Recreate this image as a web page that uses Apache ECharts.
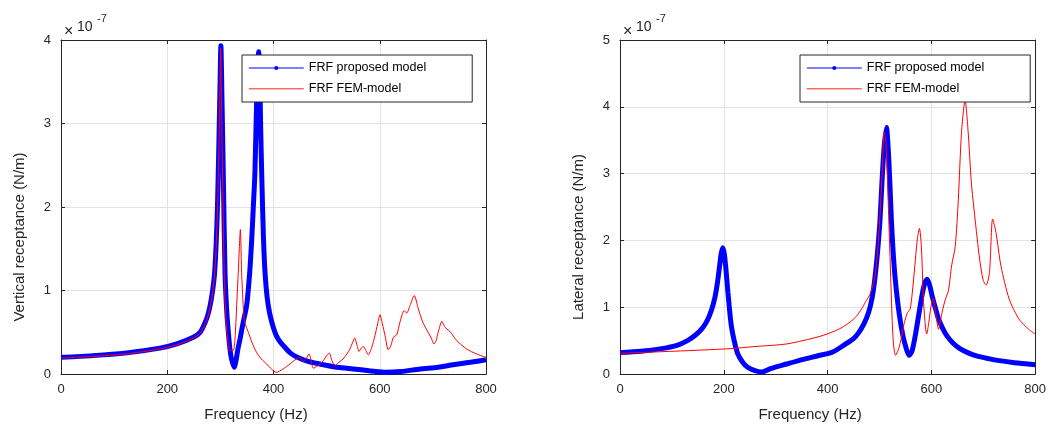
<!DOCTYPE html>
<html>
<head>
<meta charset="utf-8">
<script src="https://cdn.jsdelivr.net/npm/echarts@6/dist/echarts.min.js"></script>
<style>
  html, body { margin: 0; padding: 0; background: #fff; }
  #chart { width: 1049px; height: 427px; }
</style>
</head>
<body>
<div id="chart"></div>
<script>
// 垂直方向 FRF（单位 1e-7 N/m）
const vertProposedHz = [0, 60, 120, 186, 218, 249, 262, 274, 280, 285, 289, 292, 294.5, 297, 299, 301, 303, 305.5, 308.7, 312, 315, 318, 321, 326, 330, 333, 337, 343, 349.5, 355, 359, 362, 365, 368, 370, 372, 374, 376, 378, 381, 384, 388, 393, 400, 406, 413, 420, 432, 445, 465, 487, 520, 550, 580, 613, 640, 676, 710, 738, 770, 800];
const vertProposed   = [0.20, 0.22, 0.25, 0.31, 0.36, 0.44, 0.50, 0.66, 0.80, 0.98, 1.20, 1.55, 2.00, 2.70, 3.35, 3.93, 3.30, 2.40, 1.22, 0.75, 0.50, 0.30, 0.18, 0.08, 0.18, 0.30, 0.42, 0.62, 0.82, 1.20, 1.61, 2.00, 2.41, 3.20, 3.60, 3.86, 3.55, 2.90, 2.35, 1.65, 1.22, 0.92, 0.72, 0.55, 0.45, 0.38, 0.33, 0.25, 0.20, 0.15, 0.12, 0.08, 0.06, 0.04, 0.02, 0.03, 0.06, 0.08, 0.11, 0.14, 0.17];

const vertFemHz = [0, 60, 120, 186, 218, 249, 262, 274, 280, 285, 289, 292, 294.5, 297, 299, 300.5, 302, 304, 306, 308, 311, 314, 318, 324, 327.5, 330.7, 333.7, 335.6, 337.6, 340, 343, 346, 352.6, 360, 368, 377, 387, 396, 405, 418, 431, 443, 450, 456, 461, 467, 471, 475, 481, 487.5, 495, 500, 505, 510, 516, 523, 531, 538, 544, 549, 553, 557, 561, 565, 569, 574, 578.5, 585, 591, 596, 600.5, 605, 610, 616, 621, 625.6, 632, 638, 646, 650.6, 657, 665, 672.6, 681, 691, 697, 702, 706, 710, 717, 722, 726, 732, 745, 763.5, 782, 800];
const vertFem   = [0.19, 0.21, 0.24, 0.30, 0.35, 0.43, 0.49, 0.64, 0.78, 0.95, 1.18, 1.50, 1.95, 2.65, 3.30, 3.90, 3.30, 2.40, 1.60, 1.00, 0.60, 0.40, 0.28, 0.28, 0.42, 0.82, 1.22, 1.50, 1.73, 1.22, 0.82, 0.62, 0.50, 0.37, 0.26, 0.18, 0.12, 0.06, 0.02, 0.06, 0.12, 0.18, 0.20, 0.15, 0.18, 0.24, 0.15, 0.07, 0.09, 0.12, 0.17, 0.22, 0.25, 0.16, 0.10, 0.14, 0.18, 0.24, 0.30, 0.38, 0.43, 0.35, 0.27, 0.31, 0.33, 0.28, 0.23, 0.32, 0.46, 0.60, 0.71, 0.60, 0.46, 0.29, 0.34, 0.44, 0.47, 0.62, 0.76, 0.73, 0.82, 0.94, 0.78, 0.62, 0.50, 0.43, 0.36, 0.40, 0.50, 0.63, 0.57, 0.54, 0.51, 0.40, 0.30, 0.24, 0.20];

// 横向 FRF（单位 1e-7 N/m）
const latProposedHz = [0, 40, 80, 110, 130, 145, 158, 168, 176, 183, 188, 192, 195, 198, 201, 204, 208, 214, 220, 227, 236, 246, 260, 273, 290, 321, 353, 380, 410, 435, 450, 460, 470, 479, 486, 491, 496, 501, 505, 509, 513.5, 517, 520, 523, 526, 530, 535.5, 541, 548, 557.5, 563, 570, 577, 583, 588, 592, 597, 602, 608, 614, 622, 630, 642, 655, 670, 687, 710, 731, 760, 800];
const latProposed   = [0.32, 0.34, 0.38, 0.43, 0.50, 0.58, 0.68, 0.80, 0.95, 1.15, 1.38, 1.62, 1.80, 1.89, 1.80, 1.58, 1.22, 0.75, 0.50, 0.30, 0.18, 0.10, 0.05, 0.03, 0.08, 0.15, 0.22, 0.27, 0.33, 0.45, 0.53, 0.62, 0.75, 0.92, 1.15, 1.42, 1.80, 2.30, 2.90, 3.40, 3.69, 3.35, 2.86, 2.30, 1.87, 1.45, 1.05, 0.75, 0.48, 0.28, 0.35, 0.62, 0.95, 1.22, 1.38, 1.42, 1.32, 1.15, 0.98, 0.82, 0.68, 0.57, 0.46, 0.38, 0.32, 0.27, 0.23, 0.20, 0.17, 0.14];

const latFemHz = [0, 132, 214, 258, 321, 384, 416, 435, 454, 466, 472.5, 482, 491, 497, 501, 505, 509, 512, 515, 518, 521, 524, 527, 531, 538.6, 548, 554, 559, 563, 567, 573, 577, 581, 584.6, 589, 591, 595, 599, 603.5, 608, 614, 620.5, 627, 633, 639, 646, 652, 658, 665, 671, 677, 683.5, 693, 700, 705.6, 712, 718, 724.5, 734, 750, 769, 787.5, 800];
const latFem   = [0.31, 0.35, 0.38, 0.41, 0.45, 0.56, 0.65, 0.73, 0.85, 0.98, 1.07, 1.20, 1.45, 1.90, 2.40, 3.00, 3.62, 3.50, 3.00, 2.30, 1.60, 0.90, 0.45, 0.28, 0.42, 0.77, 0.92, 0.97, 1.20, 1.52, 2.02, 2.18, 1.87, 1.12, 0.67, 0.60, 0.77, 1.00, 1.13, 0.92, 0.67, 0.92, 1.12, 1.25, 1.62, 1.91, 2.62, 3.61, 4.10, 3.61, 2.87, 2.37, 1.72, 1.40, 1.33, 1.52, 2.32, 2.12, 1.62, 1.12, 0.82, 0.67, 0.60];

const NAME_PROPOSED = 'FRF proposed model';
const NAME_FEM = 'FRF FEM-model';

const FONT = "'Liberation Sans', Arial, Helvetica, sans-serif";
const INK = '#262626';

function zip(xs, ys) {
    return xs.map((x, i) => [x, ys[i]]);
}

// 主坐标轴（带刻度、网格）
function mainX(gridIndex) {
    return {
        type: 'value', gridIndex, position: 'bottom',
        min: 0, max: 800, interval: 200,
        name: 'Frequency (Hz)', nameLocation: 'middle', nameGap: 33,
        nameTextStyle: { fontSize: 15, color: INK, fontFamily: FONT, padding: [0, 35, 0, 0] },
        axisLine: { onZero: false, lineStyle: { color: INK, width: 1 } },
        axisTick: { inside: true, length: 4, lineStyle: { color: INK } },
        axisLabel: { color: INK, fontSize: 13, fontFamily: FONT, margin: 9 },
        splitLine: { show: true, lineStyle: { color: '#e3e3e3', width: 1 } }
    };
}

function mainY(gridIndex, max, name) {
    return {
        type: 'value', gridIndex, position: 'left',
        min: 0, max: max, interval: 1,
        name: name, nameLocation: 'middle', nameGap: 34,
        nameTextStyle: { fontSize: 15, color: INK, fontFamily: FONT, padding: [0, 60, 0, 0] },
        axisLine: { onZero: false, lineStyle: { color: INK, width: 1 } },
        axisTick: { inside: true, length: 4, lineStyle: { color: INK } },
        axisLabel: { color: INK, fontSize: 13, fontFamily: FONT, margin: 10 },
        splitLine: { show: true, lineStyle: { color: '#e3e3e3', width: 1 } }
    };
}

// 上边和右边的框线（MATLAB box on）
function boxAxis(gridIndex, position, max, interval) {
    return {
        type: 'value', gridIndex, position,
        min: 0, max: max, interval: interval,
        axisLine: { show: true, onZero: false, lineStyle: { color: INK, width: 1 } },
        axisTick: { show: true, inside: true, length: 4, lineStyle: { color: INK } },
        axisLabel: { show: false },
        splitLine: { show: false }
    };
}

function legendAt(left) {
    return {
        orient: 'vertical',
        left: left, top: 55,
        itemWidth: 55, itemHeight: 5, itemGap: 7.7,
        padding: [6.5, 46, 6.8, 6],
        backgroundColor: '#fff',
        borderColor: INK, borderWidth: 1, borderRadius: 0,
        textStyle: { fontSize: 12.5, color: '#000', fontFamily: FONT },
        selectedMode: false,
        data: [
            { name: NAME_PROPOSED, lineStyle: { width: 1, color: '#0000ff' }, itemStyle: { color: '#0000ff' } },
            { name: NAME_FEM, lineStyle: { width: 1.6, color: '#ff6a6a' }, itemStyle: { opacity: 0 } }
        ]
    };
}

function proposedSeries(xi, yi, data) {
    return {
        name: NAME_PROPOSED, type: 'line', xAxisIndex: xi, yAxisIndex: yi,
        data: data, symbol: 'circle', showSymbol: false, smooth: 0.25,
        lineStyle: { width: 5, color: '#0000ff' }, itemStyle: { color: '#0000ff' },
        z: 2
    };
}

function femSeries(xi, yi, data) {
    return {
        name: NAME_FEM, type: 'line', xAxisIndex: xi, yAxisIndex: yi,
        data: data, symbol: 'none', smooth: 0.25,
        lineStyle: { width: 1, color: '#ff0000' }, itemStyle: { color: '#ff0000' },
        z: 3
    };
}

// ×10^-7 标注
function exponentText(x0) {
    const style = (text, size) => ({ text, fill: INK, font: size + 'px ' + FONT, textVerticalAlign: 'middle' });
    return [
        { type: 'text', left: x0 + 3, top: 24, style: style('\u00d7', 16) },
        { type: 'text', left: x0 + 16, top: 20, style: style('10', 14) },
        { type: 'text', left: x0 + 36, top: 13, style: style('-7', 11) }
    ];
}

const chart = echarts.init(document.getElementById('chart'), null, { renderer: 'canvas' });

const option = {
    animation: false,
    backgroundColor: '#fff',
    grid: [
        { left: 61, top: 40, width: 425, height: 335 },
        { left: 620, top: 40, width: 423, height: 335 }
    ],
    xAxis: [
        mainX(0),
        boxAxis(0, 'top', 800, 200),
        mainX(1),
        boxAxis(1, 'top', 800, 200)
    ],
    yAxis: [
        mainY(0, 4, 'Vertical receptance (N/m)'),
        boxAxis(0, 'right', 4, 1),
        mainY(1, 5, 'Lateral receptance (N/m)'),
        boxAxis(1, 'right', 5, 1)
    ],
    legend: [legendAt(242), legendAt(800)],
    graphic: exponentText(61).concat(exponentText(620)),
    series: [
        proposedSeries(0, 0, zip(vertProposedHz, vertProposed)),
        femSeries(0, 0, zip(vertFemHz, vertFem)),
        proposedSeries(2, 2, zip(latProposedHz, latProposed)),
        femSeries(2, 2, zip(latFemHz, latFem))
    ]
};

chart.setOption(option);
</script>
</body>
</html>
